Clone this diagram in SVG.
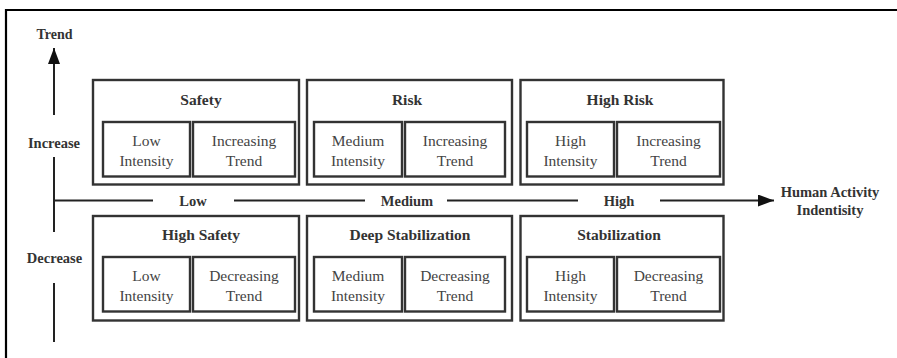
<svg xmlns="http://www.w3.org/2000/svg" width="897" height="358" viewBox="0 0 897 358">
<defs>
<style>
.frame{fill:none;stroke:#000;stroke-width:2.2}
.box{fill:#fff;stroke:#333;stroke-width:2.4}
.ax{fill:none;stroke:#222;stroke-width:2}
.t{font-family:'Liberation Serif','DejaVu Serif',serif;font-weight:bold;font-size:15.5px;fill:#333;text-anchor:middle}
.i{font-family:'Liberation Serif','DejaVu Serif',serif;font-size:15.5px;fill:#444;text-anchor:middle}
.a{font-family:'Liberation Serif','DejaVu Serif',serif;font-weight:bold;font-size:14.5px;fill:#333;text-anchor:middle}
</style>
<marker id="ah" markerWidth="16" markerHeight="12" refX="16" refY="6" orient="auto" markerUnits="userSpaceOnUse">
<path d="M0,0 L16,6 L0,12 Z" fill="#111"/>
</marker>
</defs>
<rect width="897" height="358" fill="#fff"/>
<path class="frame" d="M6,360 V10 H899"/>

<g id="connectors">
<path class="ax" d="M54,115 V48" marker-end="url(#ah)"/>
<path class="ax" d="M54,157 V232"/>
<path class="ax" d="M54,283 V342"/>
<path class="ax" d="M53,200.5 H153"/>
<path class="ax" d="M234,200.5 H365"/>
<path class="ax" d="M447,200.5 H578"/>
<path class="ax" d="M660,200.5 H774" marker-end="url(#ah)"/>
</g>

<g id="axis-labels">
<text class="a" x="54.5" y="39" style="font-size:14px">Trend</text>
<text class="a" x="54" y="148">Increase</text>
<text class="a" x="54.5" y="263">Decrease</text>
<text class="a" x="193" y="206">Low</text>
<text class="a" x="407" y="206">Medium</text>
<text class="a" x="619" y="206">High</text>
<text class="a" x="830" y="197">Human Activity</text>
<text class="a" x="830" y="215">Indentisity</text>
</g>

<g id="safety">
<rect class="box" x="93" y="80" width="206" height="104.5"/>
<text class="t" x="201" y="105">Safety</text>
<rect class="box" x="103" y="122" width="87" height="54.5"/>
<text class="i" x="146.5" y="146">Low</text>
<text class="i" x="146.5" y="166">Intensity</text>
<rect class="box" x="193" y="122" width="102" height="54.5"/>
<text class="i" x="244" y="146">Increasing</text>
<text class="i" x="244" y="166">Trend</text>
</g>

<g id="risk">
<rect class="box" x="307" y="80" width="205" height="104.5"/>
<text class="t" x="407" y="105">Risk</text>
<rect class="box" x="314" y="122" width="88" height="54.5"/>
<text class="i" x="358" y="146">Medium</text>
<text class="i" x="358" y="166">Intensity</text>
<rect class="box" x="405" y="122" width="100" height="54.5"/>
<text class="i" x="455" y="146">Increasing</text>
<text class="i" x="455" y="166">Trend</text>
</g>

<g id="high-risk">
<rect class="box" x="520.5" y="80" width="203" height="104.5"/>
<text class="t" x="620" y="105">High Risk</text>
<rect class="box" x="527" y="122" width="87" height="54.5"/>
<text class="i" x="570.5" y="146">High</text>
<text class="i" x="570.5" y="166">Intensity</text>
<rect class="box" x="617" y="122" width="103" height="54.5"/>
<text class="i" x="668.5" y="146">Increasing</text>
<text class="i" x="668.5" y="166">Trend</text>
</g>

<g id="high-safety">
<rect class="box" x="93" y="216" width="206" height="104.5"/>
<text class="t" x="201" y="240">High Safety</text>
<rect class="box" x="103" y="257" width="87" height="54.5"/>
<text class="i" x="146.5" y="281">Low</text>
<text class="i" x="146.5" y="301">Intensity</text>
<rect class="box" x="193" y="257" width="102" height="54.5"/>
<text class="i" x="244" y="281">Decreasing</text>
<text class="i" x="244" y="301">Trend</text>
</g>

<g id="deep-stabilization">
<rect class="box" x="307" y="216" width="205" height="104.5"/>
<text class="t" x="410" y="240">Deep Stabilization</text>
<rect class="box" x="314" y="257" width="88" height="54.5"/>
<text class="i" x="358" y="281">Medium</text>
<text class="i" x="358" y="301">Intensity</text>
<rect class="box" x="405" y="257" width="100" height="54.5"/>
<text class="i" x="455" y="281">Decreasing</text>
<text class="i" x="455" y="301">Trend</text>
</g>

<g id="stabilization">
<rect class="box" x="520.5" y="216" width="203" height="104.5"/>
<text class="t" x="619" y="240">Stabilization</text>
<rect class="box" x="527" y="257" width="87" height="54.5"/>
<text class="i" x="570.5" y="281">High</text>
<text class="i" x="570.5" y="301">Intensity</text>
<rect class="box" x="617" y="257" width="103" height="54.5"/>
<text class="i" x="668.5" y="281">Decreasing</text>
<text class="i" x="668.5" y="301">Trend</text>
</g>
</svg>
